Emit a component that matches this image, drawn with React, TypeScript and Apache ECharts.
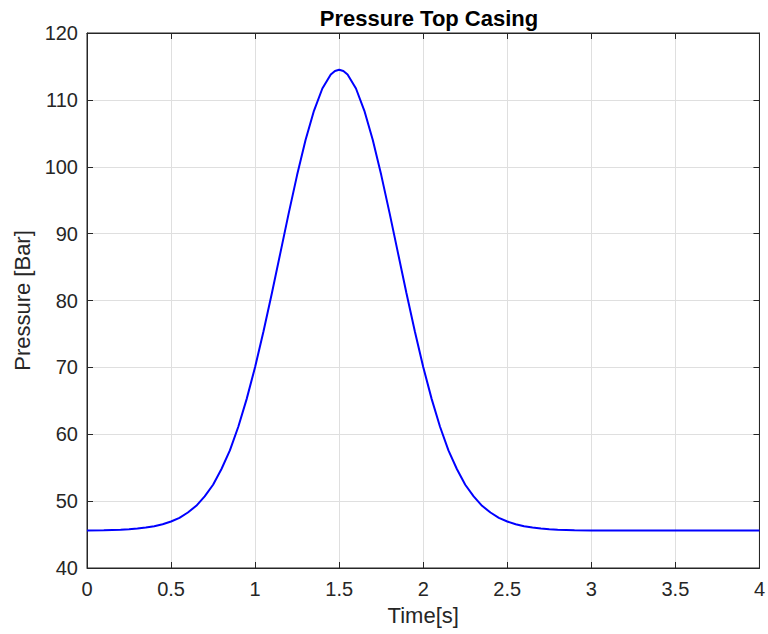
import React, { useEffect, useRef } from "react";
import * as echarts from "echarts";

const titleText = "Pressure Top Casing";
const xName = "Time[s]";
const yName = "Pressure [Bar]";

const time = [
  0, 0.1, 0.2, 0.25, 0.3, 0.35, 0.4, 0.45, 0.5, 0.55, 0.6, 0.65, 0.7, 0.75,
  0.8, 0.85, 0.9, 0.95, 1.0, 1.05, 1.1, 1.15, 1.2, 1.25, 1.3, 1.35, 1.4, 1.45,
  1.475, 1.5, 1.525, 1.55, 1.6, 1.65, 1.7, 1.75, 1.8, 1.85, 1.9, 1.95, 2.0,
  2.05, 2.1, 2.15, 2.2, 2.25, 2.3, 2.35, 2.4, 2.45, 2.5, 2.55, 2.6, 2.65, 2.7,
  2.75, 2.8, 2.9, 3.0, 3.5, 4.0,
];

const pressure = [
  45.6, 45.64, 45.72, 45.8, 45.9, 46.05, 46.25, 46.55, 46.95, 47.5, 48.3, 49.3,
  50.7, 52.45, 54.8, 57.58, 61.12, 65.29, 70.07, 75.39, 81.13, 87.09, 93.07,
  98.79, 103.99, 108.37, 111.7, 113.79, 114.32, 114.5, 114.32, 113.79, 111.7,
  108.37, 103.99, 98.79, 93.07, 87.09, 81.13, 75.39, 70.07, 65.29, 61.12,
  57.58, 54.8, 52.45, 50.7, 49.3, 48.3, 47.5, 46.95, 46.55, 46.25, 46.05, 45.9,
  45.8, 45.72, 45.64, 45.6, 45.6, 45.6,
];

const xMin = 0;
const xMax = 4;
const xStep = 0.5;
const yMin = 40;
const yMax = 120;
const yStep = 10;

export default function App() {
  const ref = useRef<HTMLDivElement>(null);

  useEffect(() => {
    if (!ref.current) return;
    const chart = echarts.init(ref.current, undefined, { renderer: "svg" });
    const font = "'Liberation Sans', Arial, Helvetica, sans-serif";
    const axisColor = "#262626";
    const gridColor = "#dfdfdf";
    const tickCommon = {
      show: true,
      inside: true,
      length: 6,
      lineStyle: { color: axisColor, width: 1 },
    };
    chart.setOption({
      animation: false,
      backgroundColor: "#ffffff",
      title: {
        text: titleText,
        left: 424,
        textAlign: "center",
        top: 2,
        textStyle: {
          fontFamily: font,
          fontSize: 22,
          fontWeight: "bold",
          color: "#000000",
        },
      },
      grid: {
        left: 87,
        right: 6,
        top: 33,
        bottom: 66,
        show: true,
        borderColor: axisColor,
        borderWidth: 1,
        backgroundColor: "#ffffff",
      },
      xAxis: [
        {
          type: "value",
          min: xMin,
          max: xMax,
          interval: xStep,
          name: xName,
          nameLocation: "middle",
          nameGap: 36,
          nameTextStyle: { fontFamily: font, fontSize: 22, color: axisColor },
          axisLine: { show: true, onZero: false, lineStyle: { color: axisColor } },
          axisTick: tickCommon,
          axisLabel: {
            fontFamily: font,
            fontSize: 20,
            color: axisColor,
            margin: 11,
          },
          splitLine: { show: true, lineStyle: { color: gridColor, width: 1 } },
        },
        {
          type: "value",
          position: "top",
          min: xMin,
          max: xMax,
          interval: xStep,
          axisLine: { show: true, onZero: false, lineStyle: { color: axisColor } },
          axisTick: tickCommon,
          axisLabel: { show: false },
          splitLine: { show: false },
        },
      ],
      yAxis: [
        {
          type: "value",
          min: yMin,
          max: yMax,
          interval: yStep,
          name: yName,
          nameLocation: "middle",
          nameGap: 50,
          nameTextStyle: { fontFamily: font, fontSize: 22, color: axisColor },
          axisLine: { show: true, onZero: false, lineStyle: { color: axisColor } },
          axisTick: tickCommon,
          axisLabel: {
            fontFamily: font,
            fontSize: 20,
            color: axisColor,
            margin: 9,
          },
          splitLine: { show: true, lineStyle: { color: gridColor, width: 1 } },
        },
        {
          type: "value",
          position: "right",
          min: yMin,
          max: yMax,
          interval: yStep,
          axisLine: { show: true, onZero: false, lineStyle: { color: axisColor } },
          axisTick: tickCommon,
          axisLabel: { show: false },
          splitLine: { show: false },
        },
      ],
      series: [
        {
          type: "line",
          xAxisIndex: 0,
          yAxisIndex: 0,
          data: time.map((t, i) => [t, pressure[i]]),
          showSymbol: false,
          symbol: "none",
          smooth: false,
          lineStyle: { color: "#0000ff", width: 2 },
        },
      ],
    });
    return () => chart.dispose();
  }, []);

  return (
    <div
      ref={ref}
      style={{
        position: "absolute",
        left: 0,
        top: 0,
        width: 768,
        height: 634,
        background: "#ffffff",
      }}
    />
  );
}
